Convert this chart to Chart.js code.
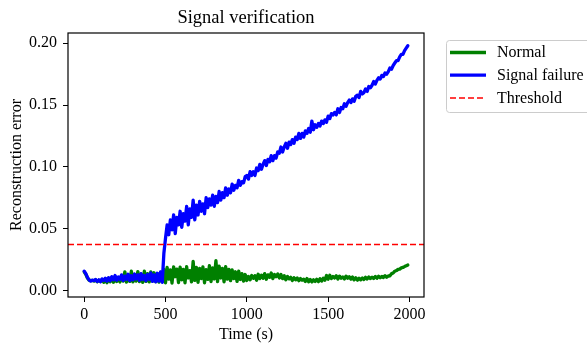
<!DOCTYPE html>
<html>
<head>
<meta charset="utf-8">
<script src="https://cdn.jsdelivr.net/npm/chart.js"></script>
<style>
html,body{margin:0;padding:0;background:#fff;}
#wrap{width:587px;height:347px;}
</style>
</head>
<body>
<div id="wrap"><canvas id="c" width="587" height="347"></canvas></div>
<script>
// ---- data ----
const TIME = [
  0,10,20,30,40,50,60,70,80,90,
  100,110,120,130,140,150,160,170,180,190,
  200,210,220,230,240,250,260,270,280,290,
  300,310,320,330,340,350,360,370,380,390,
  400,410,420,430,440,450,460,470,480,490,
  500,510,520,530,540,550,560,570,580,590,
  600,610,620,630,640,650,660,670,680,690,
  700,710,720,730,740,750,760,770,780,790,
  800,810,820,830,840,850,860,870,880,890,
  900,910,920,930,940,950,960,970,980,990,
  1000,1010,1020,1030,1040,1050,1060,1070,1080,1090,
  1100,1110,1120,1130,1140,1150,1160,1170,1180,1190,
  1200,1210,1220,1230,1240,1250,1260,1270,1280,1290,
  1300,1310,1320,1330,1340,1350,1360,1370,1380,1390,
  1400,1410,1420,1430,1440,1450,1460,1470,1480,1490,
  1500,1510,1520,1530,1540,1550,1560,1570,1580,1590,
  1600,1610,1620,1630,1640,1650,1660,1670,1680,1690,
  1700,1710,1720,1730,1740,1750,1760,1770,1780,1790,
  1800,1810,1820,1830,1840,1850,1860,1870,1880,1890,
  1900,1910,1920,1930,1940,1950,1960,1970,1980,1990
];

const NORMAL = [
  0.0150,0.0130,0.0100,0.0082,0.0078,0.0080,0.0075,0.0085,0.0070,0.0082,
  0.0072,0.0088,0.0065,0.0095,0.0062,0.0098,0.0070,0.0105,0.0065,0.0112,
  0.0072,0.0100,0.0068,0.0118,0.0075,0.0150,0.0066,0.0125,0.0072,0.0155,
  0.0068,0.0128,0.0075,0.0152,0.0070,0.0130,0.0065,0.0155,0.0072,0.0135,
  0.0068,0.0150,0.0075,0.0142,0.0070,0.0135,0.0066,0.0145,0.0072,0.0170,
  0.0060,0.0185,0.0090,0.0165,0.0058,0.0190,0.0110,0.0172,0.0062,0.0188,
  0.0085,0.0170,0.0060,0.0192,0.0100,0.0160,0.0068,0.0235,0.0080,0.0185,
  0.0065,0.0178,0.0095,0.0190,0.0060,0.0168,0.0088,0.0200,0.0070,0.0182,
  0.0092,0.0240,0.0070,0.0195,0.0100,0.0178,0.0068,0.0192,0.0090,0.0170,
  0.0078,0.0165,0.0095,0.0150,0.0072,0.0155,0.0088,0.0135,0.0075,0.0128,
  0.0080,0.0112,0.0085,0.0120,0.0098,0.0118,0.0082,0.0130,0.0095,0.0122,
  0.0098,0.0135,0.0090,0.0125,0.0105,0.0140,0.0095,0.0128,0.0110,0.0132,
  0.0100,0.0128,0.0095,0.0118,0.0085,0.0112,0.0092,0.0105,0.0080,0.0102,
  0.0085,0.0100,0.0078,0.0095,0.0082,0.0090,0.0072,0.0095,0.0070,0.0088,
  0.0068,0.0085,0.0072,0.0090,0.0070,0.0094,0.0075,0.0098,0.0082,0.0120,
  0.0090,0.0122,0.0095,0.0112,0.0100,0.0118,0.0092,0.0115,0.0098,0.0108,
  0.0092,0.0115,0.0098,0.0110,0.0090,0.0108,0.0085,0.0102,0.0082,0.0098,
  0.0085,0.0100,0.0088,0.0105,0.0092,0.0108,0.0095,0.0106,0.0096,0.0112,
  0.0098,0.0114,0.0102,0.0112,0.0104,0.0118,0.0106,0.0116,0.0118,0.0135,
  0.0140,0.0155,0.0160,0.0170,0.0172,0.0182,0.0185,0.0192,0.0198,0.0205
];

const SIGNAL_FAILURE = [
  0.0155,0.0135,0.0105,0.0085,0.0075,0.0082,0.0078,0.0088,0.0072,0.0085,
  0.0070,0.0092,0.0080,0.0098,0.0075,0.0102,0.0078,0.0110,0.0085,0.0120,
  0.0082,0.0108,0.0088,0.0125,0.0080,0.0115,0.0090,0.0130,0.0078,0.0118,
  0.0085,0.0132,0.0092,0.0125,0.0080,0.0135,0.0088,0.0120,0.0078,0.0128,
  0.0090,0.0140,0.0072,0.0125,0.0068,0.0138,0.0075,0.0150,0.0065,0.0300,
  0.042,0.053,0.045,0.057,0.049,0.061,0.046,0.059,0.053,0.064,
  0.051,0.062,0.056,0.068,0.053,0.066,0.059,0.073,0.057,0.069,
  0.061,0.072,0.064,0.070,0.062,0.075,0.067,0.074,0.069,0.077,
  0.068,0.076,0.071,0.080,0.073,0.079,0.075,0.083,0.077,0.082,
  0.079,0.086,0.081,0.085,0.083,0.089,0.085,0.088,0.087,0.092,
  0.093,0.090,0.096,0.093,0.096,0.093,0.099,0.097,0.102,0.098,
  0.102,0.105,0.101,0.106,0.104,0.109,0.105,0.109,0.107,0.112,
  0.111,0.116,0.112,0.116,0.119,0.115,0.120,0.118,0.122,0.119,
  0.124,0.122,0.127,0.123,0.127,0.124,0.129,0.127,0.131,0.128,
  0.137,0.130,0.134,0.132,0.135,0.133,0.137,0.135,0.138,0.136,
  0.141,0.139,0.143,0.142,0.144,0.142,0.147,0.144,0.148,0.147,
  0.151,0.149,0.152,0.154,0.152,0.155,0.153,0.157,0.158,0.156,
  0.161,0.159,0.160,0.163,0.161,0.165,0.164,0.166,0.169,0.167,
  0.170,0.172,0.171,0.174,0.173,0.176,0.175,0.177,0.180,0.179,
  0.182,0.184,0.186,0.186,0.189,0.191,0.191,0.194,0.196,0.198
];

const THRESHOLD = 0.037;
const X_TICKS = [0, 500, 1000, 1500, 2000];
const Y_TICKS = [0.00, 0.05, 0.10, 0.15, 0.20];
const X_LIMITS = [-99.5, 2089.5];
const Y_LIMITS = [-0.0054, 0.2083];
const SERIES_LABELS = ['Normal', 'Signal failure', 'Threshold'];
// ---------------------------------------------

const FONT = '"Liberation Serif", "Times New Roman", serif';
Chart.defaults.color = '#000';
Chart.defaults.font.family = FONT;

const toPoints = (vals) => vals.map((v, i) => ({x: TIME[i], y: v}));

const frameAndLegend = {
  id: 'frameAndLegend',
  afterDraw(chart) {
    const {ctx, chartArea: a} = chart;
    ctx.save();
    ctx.strokeStyle = '#000';
    ctx.lineWidth = 1.2;
    ctx.setLineDash([]);
    ctx.strokeRect(a.left, a.top, a.right - a.left, a.bottom - a.top);

    // legend box
    const bx = 446.5, by = 40.5, bw = 160, bh = 72, r = 3;
    ctx.beginPath();
    ctx.moveTo(bx + r, by);
    ctx.lineTo(bx + bw - r, by);
    ctx.quadraticCurveTo(bx + bw, by, bx + bw, by + r);
    ctx.lineTo(bx + bw, by + bh - r);
    ctx.quadraticCurveTo(bx + bw, by + bh, bx + bw - r, by + bh);
    ctx.lineTo(bx + r, by + bh);
    ctx.quadraticCurveTo(bx, by + bh, bx, by + bh - r);
    ctx.lineTo(bx, by + r);
    ctx.quadraticCurveTo(bx, by, bx + r, by);
    ctx.closePath();
    ctx.fillStyle = 'rgba(255,255,255,0.8)';
    ctx.fill();
    ctx.strokeStyle = '#cccccc';
    ctx.lineWidth = 1;
    ctx.stroke();

    chart.data.datasets.forEach((ds, i) => {
      const y = 52.5 + i * 22.7;
      ctx.beginPath();
      ctx.setLineDash(ds.borderDash || []);
      ctx.strokeStyle = ds.borderColor;
      ctx.lineWidth = ds.borderWidth;
      ctx.lineCap = 'butt';
      ctx.moveTo(450, y);
      ctx.lineTo(486, y);
      ctx.stroke();
      ctx.setLineDash([]);
      ctx.fillStyle = '#000';
      ctx.font = '16px ' + FONT;
      ctx.textBaseline = 'middle';
      ctx.textAlign = 'left';
      ctx.fillText(ds.label, 497, y + 0.5);
    });
    ctx.restore();
  }
};

new Chart(document.getElementById('c'), {
  type: 'line',
  data: {
    datasets: [
      {
        label: SERIES_LABELS[0],
        data: toPoints(NORMAL),
        borderColor: '#008000',
        borderWidth: 3.3,
        pointRadius: 0,
        tension: 0,
        borderJoinStyle: 'round',
        borderCapStyle: 'round',
        order: 3
      },
      {
        label: SERIES_LABELS[1],
        data: toPoints(SIGNAL_FAILURE),
        borderColor: '#0000ff',
        borderWidth: 3.3,
        pointRadius: 0,
        tension: 0,
        borderJoinStyle: 'round',
        borderCapStyle: 'round',
        order: 2
      },
      {
        label: SERIES_LABELS[2],
        data: [{x: X_LIMITS[0], y: THRESHOLD}, {x: X_LIMITS[1], y: THRESHOLD}],
        borderColor: '#ff0000',
        borderWidth: 1.5,
        borderDash: [6, 3],
        pointRadius: 0,
        order: 1
      }
    ]
  },
  options: {
    responsive: false,
    animation: false,
    devicePixelRatio: 1,
    events: [],
    layout: {padding: {left: 0, right: 163, top: 0, bottom: 0}},
    plugins: {
      legend: {display: false},
      tooltip: {enabled: false},
      title: {
        display: true,
        text: 'Signal verification',
        fullSize: false,
        color: '#000',
        font: {family: FONT, size: 18.5, weight: 'normal'},
        padding: {top: 6.6, bottom: 4.2}
      }
    },
    scales: {
      x: {
        type: 'linear',
        min: X_LIMITS[0],
        max: X_LIMITS[1],
        afterBuildTicks: (s) => { s.ticks = X_TICKS.map(v => ({value: v})); },
        afterFit: (s) => { s.height = 50; s.paddingLeft = 0; s.paddingRight = 0; },
        ticks: {
          padding: 3,
          maxRotation: 0,
          autoSkip: false,
          color: '#000',
          font: {family: FONT, size: 16},
          callback: (v) => String(v)
        },
        grid: {display: true, drawOnChartArea: false, drawTicks: true, tickLength: 5, color: '#000', lineWidth: 1},
        border: {display: false},
        title: {
          display: true,
          text: 'Time (s)',
          color: '#000',
          font: {family: FONT, size: 16},
          padding: {top: 0, bottom: 3}
        }
      },
      y: {
        type: 'linear',
        min: Y_LIMITS[0],
        max: Y_LIMITS[1],
        afterBuildTicks: (s) => { s.ticks = Y_TICKS.map(v => ({value: v})); },
        afterFit: (s) => { s.width = 68; s.paddingTop = 0; s.paddingBottom = 0; },
        ticks: {
          padding: 6,
          autoSkip: false,
          color: '#000',
          font: {family: FONT, size: 16},
          callback: (v) => Number(v).toFixed(2)
        },
        grid: {display: true, drawOnChartArea: false, drawTicks: true, tickLength: 5, color: '#000', lineWidth: 1},
        border: {display: false},
        title: {
          display: true,
          text: 'Reconstruction error',
          color: '#000',
          font: {family: FONT, size: 16},
          padding: {top: 7, bottom: 0}
        }
      }
    }
  },
  plugins: [frameAndLegend]
});
</script>
</body>
</html>
